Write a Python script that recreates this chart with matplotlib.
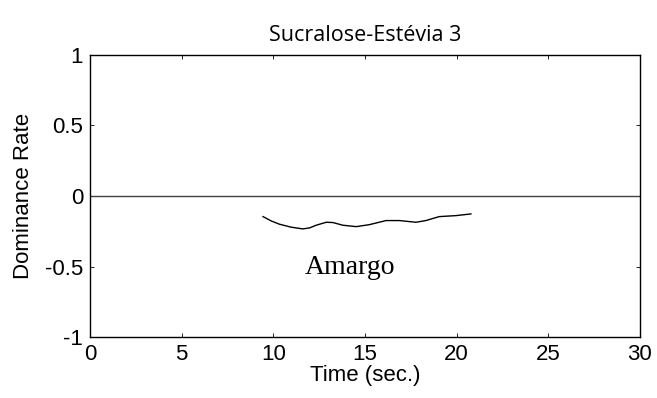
import matplotlib.pyplot as plt
import numpy as np

# 数据
time = [9.44, 9.89, 10.34, 10.98, 11.61, 11.98, 12.34, 12.89, 13.25, 13.79,
        14.52, 15.24, 16.15, 16.88, 17.78, 18.32, 19.05, 19.96, 20.78]
amargo = [-0.146, -0.177, -0.200, -0.221, -0.233, -0.226, -0.207, -0.186, -0.188, -0.207,
          -0.217, -0.203, -0.174, -0.174, -0.186, -0.174, -0.146, -0.139, -0.127]

xticks = [0, 5, 10, 15, 20, 25, 30]
yticks = [-1, -0.5, 0, 0.5, 1]
ytick_labels = ['-1', '-0.5', '0', '0.5', '1']

fig = plt.figure(figsize=(6.57, 3.98), dpi=100)
ax = fig.add_axes([0.137, 0.153, 0.837, 0.709])

ax.axhline(0, color='#404040', linewidth=1.0)
ax.plot(time, amargo, color='black', linewidth=1.0)
ax.text(14.2, -0.51, 'Amargo', family='Liberation Serif', fontsize=20,
        ha='center', va='center')

ax.set_xlim(0, 30)
ax.set_ylim(-1, 1)
ax.set_xticks(xticks)
ax.set_yticks(yticks)
ax.set_yticklabels(ytick_labels)
ax.tick_params(direction='in', top=True, right=True, length=3, width=0.6,
               labelsize=16)
ax.tick_params(axis='x', pad=5)
ax.tick_params(axis='y', pad=5)
for lab in ax.get_xticklabels() + ax.get_yticklabels():
    lab.set_family('Liberation Sans')
for s in ax.spines.values():
    s.set_linewidth(1.0)

ax.set_xlabel('Time (sec.)', family='Liberation Sans', fontsize=16, labelpad=0)
ax.set_ylabel('Dominance Rate', family='Liberation Sans', fontsize=16, labelpad=8)
ax.set_title('Sucralose-Estévia 3', family='Open Sans', fontsize=15.5, pad=10)

fig.savefig('out.png', dpi=100)
